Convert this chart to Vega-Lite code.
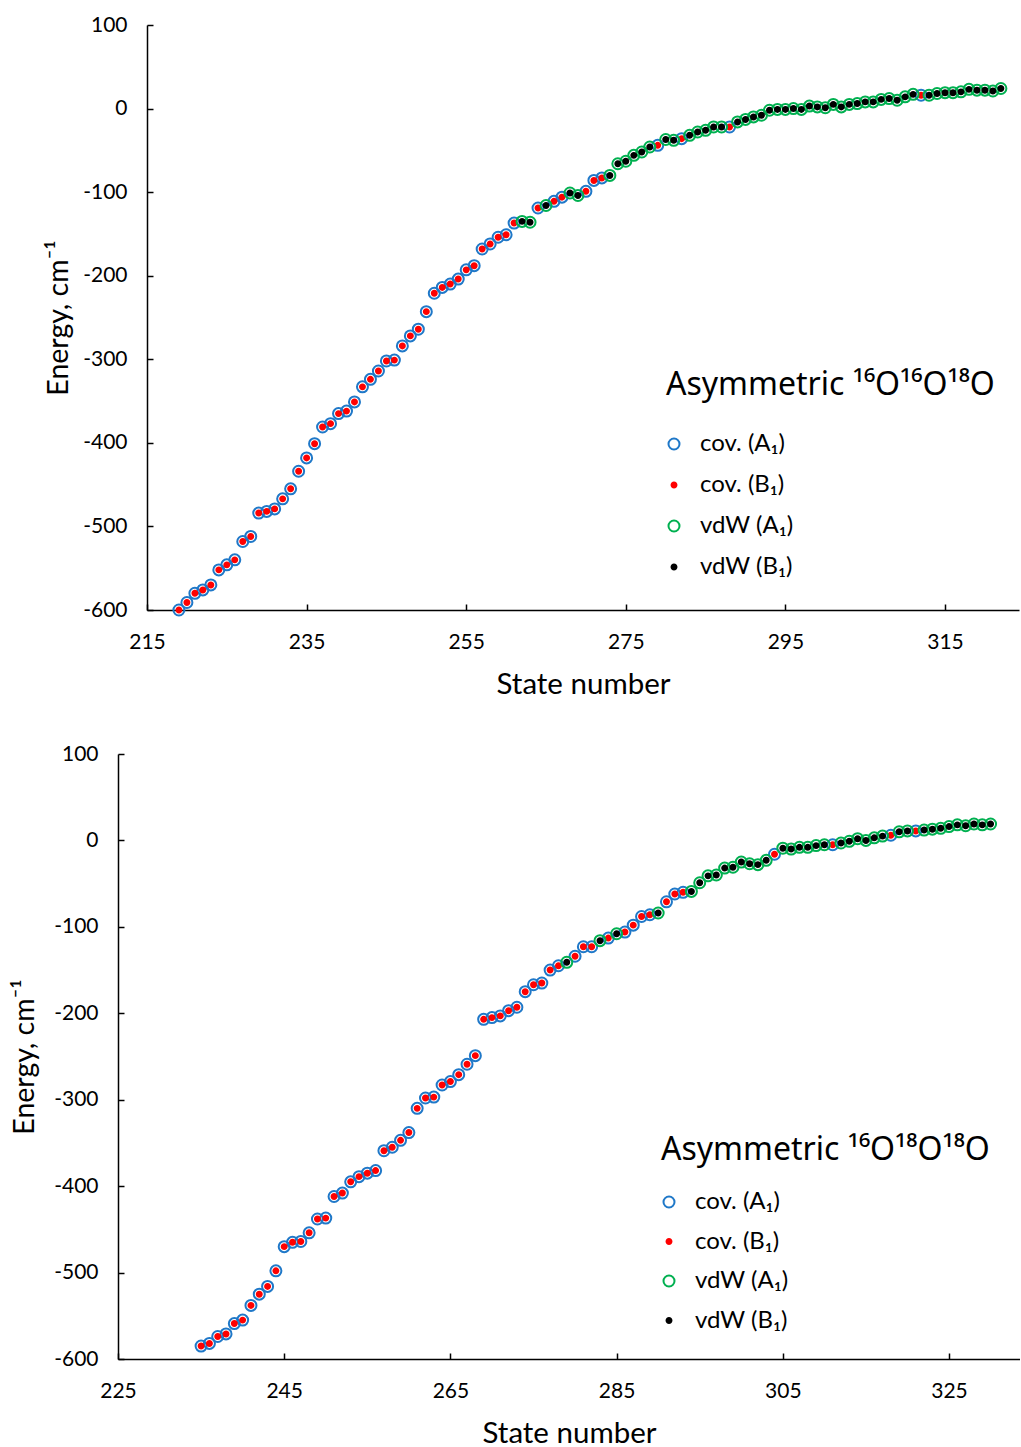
{
  "$schema": "https://vega.github.io/schema/vega-lite/v6.json",
  "background": "white",
  "padding": {"left": 9, "top": 14, "right": 0, "bottom": 0},
  "config": {
    "view": {"stroke": null},
    "font": "Lato, Noto Sans",
    "axis": {
      "grid": false,
      "domainColor": "black",
      "domainWidth": 1.5,
      "tickColor": "black",
      "tickWidth": 1.5,
      "tickSize": -6,
      "labelFontSize": 21,
      "labelColor": "black",
      "titleFontSize": 29.5,
      "titleFontWeight": "normal",
      "titleColor": "black",
      "labelExpr": "'' + datum.value"
    },
    "axisX": {"labelPadding": 27, "titlePadding": 18, "labelFlush": false},
    "axisY": {"labelPadding": 26, "titlePadding": 14, "titleFontSize": 28.5},
    "legend": {
      "orient": "none",
      "titleFont": "Noto Sans",
      "titleFontSize": 32,
      "titleFontWeight": "normal",
      "titleColor": "black",
      "titleLimit": 600,
      "labelFontSize": 24,
      "labelColor": "black",
      "labelOffset": 14,
      "labelLimit": 400,
      "symbolSize": 121,
      "symbolStrokeWidth": 2,
      "symbolOffset": -4,
      "padding": 0
    }
  },
  "datasets": {
    "top": [
      {"s":"cov. (A₁)","n":219,"E":-600},{"s":"cov. (A₁)","n":220,"E":-591},{"s":"cov. (A₁)","n":221,"E":-580},{"s":"cov. (A₁)","n":222,"E":-576},{"s":"cov. (A₁)","n":223,"E":-570},{"s":"cov. (A₁)","n":224,"E":-552},{"s":"cov. (A₁)","n":225,"E":-546},{"s":"cov. (A₁)","n":226,"E":-540},{"s":"cov. (A₁)","n":227,"E":-518},{"s":"cov. (A₁)","n":228,"E":-512},{"s":"cov. (A₁)","n":229,"E":-484},{"s":"cov. (A₁)","n":230,"E":-482},{"s":"cov. (A₁)","n":231,"E":-479},{"s":"cov. (A₁)","n":232,"E":-467},{"s":"cov. (A₁)","n":233,"E":-455},{"s":"cov. (A₁)","n":234,"E":-434},{"s":"cov. (A₁)","n":235,"E":-418},{"s":"cov. (A₁)","n":236,"E":-401},{"s":"cov. (A₁)","n":237,"E":-381},{"s":"cov. (A₁)","n":238,"E":-377},{"s":"cov. (A₁)","n":239,"E":-365},{"s":"cov. (A₁)","n":240,"E":-362},{"s":"cov. (A₁)","n":241,"E":-351},{"s":"cov. (A₁)","n":242,"E":-333},{"s":"cov. (A₁)","n":243,"E":-324},{"s":"cov. (A₁)","n":244,"E":-314},{"s":"cov. (A₁)","n":245,"E":-302},{"s":"cov. (A₁)","n":246,"E":-301},{"s":"cov. (A₁)","n":247,"E":-284},{"s":"cov. (A₁)","n":248,"E":-272},{"s":"cov. (A₁)","n":249,"E":-264},{"s":"cov. (A₁)","n":250,"E":-243},{"s":"cov. (A₁)","n":251,"E":-221},{"s":"cov. (A₁)","n":252,"E":-214},{"s":"cov. (A₁)","n":253,"E":-210},{"s":"cov. (A₁)","n":254,"E":-204},{"s":"cov. (A₁)","n":255,"E":-193},{"s":"cov. (A₁)","n":256,"E":-188},{"s":"cov. (A₁)","n":257,"E":-168},{"s":"cov. (A₁)","n":258,"E":-162},{"s":"cov. (A₁)","n":259,"E":-154},{"s":"cov. (A₁)","n":260,"E":-151},{"s":"cov. (A₁)","n":261,"E":-137},{"s":"cov. (A₁)","n":264,"E":-119},{"s":"cov. (A₁)","n":266,"E":-111},{"s":"cov. (A₁)","n":267,"E":-106},{"s":"cov. (A₁)","n":270,"E":-99},{"s":"cov. (A₁)","n":271,"E":-86},{"s":"cov. (A₁)","n":272,"E":-83},{"s":"cov. (A₁)","n":279,"E":-44},{"s":"cov. (A₁)","n":282,"E":-36},{"s":"cov. (A₁)","n":288,"E":-22},{"s":"cov. (A₁)","n":312,"E":16},
      {"s":"cov. (B₁)","n":219,"E":-600},{"s":"cov. (B₁)","n":220,"E":-591},{"s":"cov. (B₁)","n":221,"E":-580},{"s":"cov. (B₁)","n":222,"E":-576},{"s":"cov. (B₁)","n":223,"E":-570},{"s":"cov. (B₁)","n":224,"E":-552},{"s":"cov. (B₁)","n":225,"E":-546},{"s":"cov. (B₁)","n":226,"E":-540},{"s":"cov. (B₁)","n":227,"E":-518},{"s":"cov. (B₁)","n":228,"E":-512},{"s":"cov. (B₁)","n":229,"E":-484},{"s":"cov. (B₁)","n":230,"E":-482},{"s":"cov. (B₁)","n":231,"E":-479},{"s":"cov. (B₁)","n":232,"E":-467},{"s":"cov. (B₁)","n":233,"E":-455},{"s":"cov. (B₁)","n":234,"E":-434},{"s":"cov. (B₁)","n":235,"E":-418},{"s":"cov. (B₁)","n":236,"E":-401},{"s":"cov. (B₁)","n":237,"E":-381},{"s":"cov. (B₁)","n":238,"E":-377},{"s":"cov. (B₁)","n":239,"E":-365},{"s":"cov. (B₁)","n":240,"E":-362},{"s":"cov. (B₁)","n":241,"E":-351},{"s":"cov. (B₁)","n":242,"E":-333},{"s":"cov. (B₁)","n":243,"E":-324},{"s":"cov. (B₁)","n":244,"E":-314},{"s":"cov. (B₁)","n":245,"E":-302},{"s":"cov. (B₁)","n":246,"E":-301},{"s":"cov. (B₁)","n":247,"E":-284},{"s":"cov. (B₁)","n":248,"E":-272},{"s":"cov. (B₁)","n":249,"E":-264},{"s":"cov. (B₁)","n":250,"E":-243},{"s":"cov. (B₁)","n":251,"E":-221},{"s":"cov. (B₁)","n":252,"E":-214},{"s":"cov. (B₁)","n":253,"E":-210},{"s":"cov. (B₁)","n":254,"E":-204},{"s":"cov. (B₁)","n":255,"E":-193},{"s":"cov. (B₁)","n":256,"E":-188},{"s":"cov. (B₁)","n":257,"E":-168},{"s":"cov. (B₁)","n":258,"E":-162},{"s":"cov. (B₁)","n":259,"E":-154},{"s":"cov. (B₁)","n":260,"E":-151},{"s":"cov. (B₁)","n":261,"E":-137},{"s":"cov. (B₁)","n":264,"E":-119},{"s":"cov. (B₁)","n":266,"E":-111},{"s":"cov. (B₁)","n":267,"E":-106},{"s":"cov. (B₁)","n":270,"E":-99},{"s":"cov. (B₁)","n":271,"E":-86},{"s":"cov. (B₁)","n":272,"E":-83},{"s":"cov. (B₁)","n":279,"E":-44},{"s":"cov. (B₁)","n":282,"E":-36},{"s":"cov. (B₁)","n":288,"E":-22},{"s":"cov. (B₁)","n":312,"E":16},
      {"s":"vdW (A₁)","n":262,"E":-135},{"s":"vdW (A₁)","n":263,"E":-136},{"s":"vdW (A₁)","n":265,"E":-116},{"s":"vdW (A₁)","n":268,"E":-101},{"s":"vdW (A₁)","n":269,"E":-104},{"s":"vdW (A₁)","n":273,"E":-80},{"s":"vdW (A₁)","n":274,"E":-66},{"s":"vdW (A₁)","n":275,"E":-63},{"s":"vdW (A₁)","n":276,"E":-56},{"s":"vdW (A₁)","n":277,"E":-52},{"s":"vdW (A₁)","n":278,"E":-46},{"s":"vdW (A₁)","n":280,"E":-37},{"s":"vdW (A₁)","n":281,"E":-38},{"s":"vdW (A₁)","n":283,"E":-32},{"s":"vdW (A₁)","n":284,"E":-28},{"s":"vdW (A₁)","n":285,"E":-26},{"s":"vdW (A₁)","n":286,"E":-22},{"s":"vdW (A₁)","n":287,"E":-22},{"s":"vdW (A₁)","n":289,"E":-16},{"s":"vdW (A₁)","n":290,"E":-13},{"s":"vdW (A₁)","n":291,"E":-10},{"s":"vdW (A₁)","n":292,"E":-8},{"s":"vdW (A₁)","n":293,"E":-2},{"s":"vdW (A₁)","n":294,"E":-1},{"s":"vdW (A₁)","n":295,"E":-1},{"s":"vdW (A₁)","n":296,"E":0},{"s":"vdW (A₁)","n":297,"E":-1},{"s":"vdW (A₁)","n":298,"E":3},{"s":"vdW (A₁)","n":299,"E":2},{"s":"vdW (A₁)","n":300,"E":1},{"s":"vdW (A₁)","n":301,"E":5},{"s":"vdW (A₁)","n":302,"E":2},{"s":"vdW (A₁)","n":303,"E":5},{"s":"vdW (A₁)","n":304,"E":6},{"s":"vdW (A₁)","n":305,"E":8},{"s":"vdW (A₁)","n":306,"E":8},{"s":"vdW (A₁)","n":307,"E":11},{"s":"vdW (A₁)","n":308,"E":12},{"s":"vdW (A₁)","n":309,"E":10},{"s":"vdW (A₁)","n":310,"E":14},{"s":"vdW (A₁)","n":311,"E":17},{"s":"vdW (A₁)","n":313,"E":16},{"s":"vdW (A₁)","n":314,"E":18},{"s":"vdW (A₁)","n":315,"E":19},{"s":"vdW (A₁)","n":316,"E":19},{"s":"vdW (A₁)","n":317,"E":20},{"s":"vdW (A₁)","n":318,"E":23},{"s":"vdW (A₁)","n":319,"E":22},{"s":"vdW (A₁)","n":320,"E":22},{"s":"vdW (A₁)","n":321,"E":21},{"s":"vdW (A₁)","n":322,"E":24},
      {"s":"vdW (B₁)","n":262,"E":-135},{"s":"vdW (B₁)","n":263,"E":-136},{"s":"vdW (B₁)","n":265,"E":-116},{"s":"vdW (B₁)","n":268,"E":-101},{"s":"vdW (B₁)","n":269,"E":-104},{"s":"vdW (B₁)","n":273,"E":-80},{"s":"vdW (B₁)","n":274,"E":-66},{"s":"vdW (B₁)","n":275,"E":-63},{"s":"vdW (B₁)","n":276,"E":-56},{"s":"vdW (B₁)","n":277,"E":-52},{"s":"vdW (B₁)","n":278,"E":-46},{"s":"vdW (B₁)","n":280,"E":-37},{"s":"vdW (B₁)","n":281,"E":-38},{"s":"vdW (B₁)","n":283,"E":-32},{"s":"vdW (B₁)","n":284,"E":-28},{"s":"vdW (B₁)","n":285,"E":-26},{"s":"vdW (B₁)","n":286,"E":-22},{"s":"vdW (B₁)","n":287,"E":-22},{"s":"vdW (B₁)","n":289,"E":-16},{"s":"vdW (B₁)","n":290,"E":-13},{"s":"vdW (B₁)","n":291,"E":-10},{"s":"vdW (B₁)","n":292,"E":-8},{"s":"vdW (B₁)","n":293,"E":-2},{"s":"vdW (B₁)","n":294,"E":-1},{"s":"vdW (B₁)","n":295,"E":-1},{"s":"vdW (B₁)","n":296,"E":0},{"s":"vdW (B₁)","n":297,"E":-1},{"s":"vdW (B₁)","n":298,"E":3},{"s":"vdW (B₁)","n":299,"E":2},{"s":"vdW (B₁)","n":300,"E":1},{"s":"vdW (B₁)","n":301,"E":5},{"s":"vdW (B₁)","n":302,"E":2},{"s":"vdW (B₁)","n":303,"E":5},{"s":"vdW (B₁)","n":304,"E":6},{"s":"vdW (B₁)","n":305,"E":8},{"s":"vdW (B₁)","n":306,"E":8},{"s":"vdW (B₁)","n":307,"E":11},{"s":"vdW (B₁)","n":308,"E":12},{"s":"vdW (B₁)","n":309,"E":10},{"s":"vdW (B₁)","n":310,"E":14},{"s":"vdW (B₁)","n":311,"E":17},{"s":"vdW (B₁)","n":313,"E":16},{"s":"vdW (B₁)","n":314,"E":18},{"s":"vdW (B₁)","n":315,"E":19},{"s":"vdW (B₁)","n":316,"E":19},{"s":"vdW (B₁)","n":317,"E":20},{"s":"vdW (B₁)","n":318,"E":23},{"s":"vdW (B₁)","n":319,"E":22},{"s":"vdW (B₁)","n":320,"E":22},{"s":"vdW (B₁)","n":321,"E":21},{"s":"vdW (B₁)","n":322,"E":24}
    ],
    "bot": [
      {"s":"cov. (A₁)","n":235,"E":-585},{"s":"cov. (A₁)","n":236,"E":-582},{"s":"cov. (A₁)","n":237,"E":-574},{"s":"cov. (A₁)","n":238,"E":-571},{"s":"cov. (A₁)","n":239,"E":-559},{"s":"cov. (A₁)","n":240,"E":-555},{"s":"cov. (A₁)","n":241,"E":-538},{"s":"cov. (A₁)","n":242,"E":-525},{"s":"cov. (A₁)","n":243,"E":-516},{"s":"cov. (A₁)","n":244,"E":-498},{"s":"cov. (A₁)","n":245,"E":-470},{"s":"cov. (A₁)","n":246,"E":-465},{"s":"cov. (A₁)","n":247,"E":-464},{"s":"cov. (A₁)","n":248,"E":-454},{"s":"cov. (A₁)","n":249,"E":-438},{"s":"cov. (A₁)","n":250,"E":-437},{"s":"cov. (A₁)","n":251,"E":-412},{"s":"cov. (A₁)","n":252,"E":-408},{"s":"cov. (A₁)","n":253,"E":-395},{"s":"cov. (A₁)","n":254,"E":-389},{"s":"cov. (A₁)","n":255,"E":-385},{"s":"cov. (A₁)","n":256,"E":-382},{"s":"cov. (A₁)","n":257,"E":-359},{"s":"cov. (A₁)","n":258,"E":-355},{"s":"cov. (A₁)","n":259,"E":-347},{"s":"cov. (A₁)","n":260,"E":-338},{"s":"cov. (A₁)","n":261,"E":-310},{"s":"cov. (A₁)","n":262,"E":-298},{"s":"cov. (A₁)","n":263,"E":-297},{"s":"cov. (A₁)","n":264,"E":-283},{"s":"cov. (A₁)","n":265,"E":-279},{"s":"cov. (A₁)","n":266,"E":-271},{"s":"cov. (A₁)","n":267,"E":-259},{"s":"cov. (A₁)","n":268,"E":-249},{"s":"cov. (A₁)","n":269,"E":-207},{"s":"cov. (A₁)","n":270,"E":-205},{"s":"cov. (A₁)","n":271,"E":-203},{"s":"cov. (A₁)","n":272,"E":-197},{"s":"cov. (A₁)","n":273,"E":-193},{"s":"cov. (A₁)","n":274,"E":-175},{"s":"cov. (A₁)","n":275,"E":-167},{"s":"cov. (A₁)","n":276,"E":-165},{"s":"cov. (A₁)","n":277,"E":-150},{"s":"cov. (A₁)","n":278,"E":-145},{"s":"cov. (A₁)","n":280,"E":-134},{"s":"cov. (A₁)","n":281,"E":-123},{"s":"cov. (A₁)","n":282,"E":-123},{"s":"cov. (A₁)","n":284,"E":-113},{"s":"cov. (A₁)","n":286,"E":-106},{"s":"cov. (A₁)","n":287,"E":-98},{"s":"cov. (A₁)","n":288,"E":-88},{"s":"cov. (A₁)","n":289,"E":-86},{"s":"cov. (A₁)","n":291,"E":-71},{"s":"cov. (A₁)","n":292,"E":-62},{"s":"cov. (A₁)","n":293,"E":-60},{"s":"cov. (A₁)","n":304,"E":-16},{"s":"cov. (A₁)","n":311,"E":-5},{"s":"cov. (A₁)","n":318,"E":6},{"s":"cov. (A₁)","n":321,"E":11},
      {"s":"cov. (B₁)","n":235,"E":-585},{"s":"cov. (B₁)","n":236,"E":-582},{"s":"cov. (B₁)","n":237,"E":-574},{"s":"cov. (B₁)","n":238,"E":-571},{"s":"cov. (B₁)","n":239,"E":-559},{"s":"cov. (B₁)","n":240,"E":-555},{"s":"cov. (B₁)","n":241,"E":-538},{"s":"cov. (B₁)","n":242,"E":-525},{"s":"cov. (B₁)","n":243,"E":-516},{"s":"cov. (B₁)","n":244,"E":-498},{"s":"cov. (B₁)","n":245,"E":-470},{"s":"cov. (B₁)","n":246,"E":-465},{"s":"cov. (B₁)","n":247,"E":-464},{"s":"cov. (B₁)","n":248,"E":-454},{"s":"cov. (B₁)","n":249,"E":-438},{"s":"cov. (B₁)","n":250,"E":-437},{"s":"cov. (B₁)","n":251,"E":-412},{"s":"cov. (B₁)","n":252,"E":-408},{"s":"cov. (B₁)","n":253,"E":-395},{"s":"cov. (B₁)","n":254,"E":-389},{"s":"cov. (B₁)","n":255,"E":-385},{"s":"cov. (B₁)","n":256,"E":-382},{"s":"cov. (B₁)","n":257,"E":-359},{"s":"cov. (B₁)","n":258,"E":-355},{"s":"cov. (B₁)","n":259,"E":-347},{"s":"cov. (B₁)","n":260,"E":-338},{"s":"cov. (B₁)","n":261,"E":-310},{"s":"cov. (B₁)","n":262,"E":-298},{"s":"cov. (B₁)","n":263,"E":-297},{"s":"cov. (B₁)","n":264,"E":-283},{"s":"cov. (B₁)","n":265,"E":-279},{"s":"cov. (B₁)","n":266,"E":-271},{"s":"cov. (B₁)","n":267,"E":-259},{"s":"cov. (B₁)","n":268,"E":-249},{"s":"cov. (B₁)","n":269,"E":-207},{"s":"cov. (B₁)","n":270,"E":-205},{"s":"cov. (B₁)","n":271,"E":-203},{"s":"cov. (B₁)","n":272,"E":-197},{"s":"cov. (B₁)","n":273,"E":-193},{"s":"cov. (B₁)","n":274,"E":-175},{"s":"cov. (B₁)","n":275,"E":-167},{"s":"cov. (B₁)","n":276,"E":-165},{"s":"cov. (B₁)","n":277,"E":-150},{"s":"cov. (B₁)","n":278,"E":-145},{"s":"cov. (B₁)","n":280,"E":-134},{"s":"cov. (B₁)","n":281,"E":-123},{"s":"cov. (B₁)","n":282,"E":-123},{"s":"cov. (B₁)","n":284,"E":-113},{"s":"cov. (B₁)","n":286,"E":-106},{"s":"cov. (B₁)","n":287,"E":-98},{"s":"cov. (B₁)","n":288,"E":-88},{"s":"cov. (B₁)","n":289,"E":-86},{"s":"cov. (B₁)","n":291,"E":-71},{"s":"cov. (B₁)","n":292,"E":-62},{"s":"cov. (B₁)","n":293,"E":-60},{"s":"cov. (B₁)","n":304,"E":-16},{"s":"cov. (B₁)","n":311,"E":-5},{"s":"cov. (B₁)","n":318,"E":6},{"s":"cov. (B₁)","n":321,"E":11},
      {"s":"vdW (A₁)","n":279,"E":-141},{"s":"vdW (A₁)","n":283,"E":-116},{"s":"vdW (A₁)","n":285,"E":-108},{"s":"vdW (A₁)","n":290,"E":-84},{"s":"vdW (A₁)","n":294,"E":-59},{"s":"vdW (A₁)","n":295,"E":-49},{"s":"vdW (A₁)","n":296,"E":-41},{"s":"vdW (A₁)","n":297,"E":-40},{"s":"vdW (A₁)","n":298,"E":-32},{"s":"vdW (A₁)","n":299,"E":-31},{"s":"vdW (A₁)","n":300,"E":-25},{"s":"vdW (A₁)","n":301,"E":-27},{"s":"vdW (A₁)","n":302,"E":-28},{"s":"vdW (A₁)","n":303,"E":-23},{"s":"vdW (A₁)","n":305,"E":-9},{"s":"vdW (A₁)","n":306,"E":-10},{"s":"vdW (A₁)","n":307,"E":-8},{"s":"vdW (A₁)","n":308,"E":-8},{"s":"vdW (A₁)","n":309,"E":-6},{"s":"vdW (A₁)","n":310,"E":-5},{"s":"vdW (A₁)","n":312,"E":-3},{"s":"vdW (A₁)","n":313,"E":-1},{"s":"vdW (A₁)","n":314,"E":2},{"s":"vdW (A₁)","n":315,"E":0},{"s":"vdW (A₁)","n":316,"E":3},{"s":"vdW (A₁)","n":317,"E":5},{"s":"vdW (A₁)","n":319,"E":10},{"s":"vdW (A₁)","n":320,"E":11},{"s":"vdW (A₁)","n":322,"E":12},{"s":"vdW (A₁)","n":323,"E":13},{"s":"vdW (A₁)","n":324,"E":14},{"s":"vdW (A₁)","n":325,"E":16},{"s":"vdW (A₁)","n":326,"E":18},{"s":"vdW (A₁)","n":327,"E":17},{"s":"vdW (A₁)","n":328,"E":19},{"s":"vdW (A₁)","n":329,"E":18},{"s":"vdW (A₁)","n":330,"E":19},
      {"s":"vdW (B₁)","n":279,"E":-141},{"s":"vdW (B₁)","n":283,"E":-116},{"s":"vdW (B₁)","n":285,"E":-108},{"s":"vdW (B₁)","n":290,"E":-84},{"s":"vdW (B₁)","n":294,"E":-59},{"s":"vdW (B₁)","n":295,"E":-49},{"s":"vdW (B₁)","n":296,"E":-41},{"s":"vdW (B₁)","n":297,"E":-40},{"s":"vdW (B₁)","n":298,"E":-32},{"s":"vdW (B₁)","n":299,"E":-31},{"s":"vdW (B₁)","n":300,"E":-25},{"s":"vdW (B₁)","n":301,"E":-27},{"s":"vdW (B₁)","n":302,"E":-28},{"s":"vdW (B₁)","n":303,"E":-23},{"s":"vdW (B₁)","n":305,"E":-9},{"s":"vdW (B₁)","n":306,"E":-10},{"s":"vdW (B₁)","n":307,"E":-8},{"s":"vdW (B₁)","n":308,"E":-8},{"s":"vdW (B₁)","n":309,"E":-6},{"s":"vdW (B₁)","n":310,"E":-5},{"s":"vdW (B₁)","n":312,"E":-3},{"s":"vdW (B₁)","n":313,"E":-1},{"s":"vdW (B₁)","n":314,"E":2},{"s":"vdW (B₁)","n":315,"E":0},{"s":"vdW (B₁)","n":316,"E":3},{"s":"vdW (B₁)","n":317,"E":5},{"s":"vdW (B₁)","n":319,"E":10},{"s":"vdW (B₁)","n":320,"E":11},{"s":"vdW (B₁)","n":322,"E":12},{"s":"vdW (B₁)","n":323,"E":13},{"s":"vdW (B₁)","n":324,"E":14},{"s":"vdW (B₁)","n":325,"E":16},{"s":"vdW (B₁)","n":326,"E":18},{"s":"vdW (B₁)","n":327,"E":17},{"s":"vdW (B₁)","n":328,"E":19},{"s":"vdW (B₁)","n":329,"E":18},{"s":"vdW (B₁)","n":330,"E":19}
    ]
  },
  "concat": [
    {
      "hconcat": [
        {
          "width": 35,
          "height": 1,
          "data": {"values": [{}]},
          "mark": {"type": "point", "opacity": 0, "size": 0}
        },
        {
          "width": 872,
          "height": 585,
          "layer": [
            {
              "mark": {"type": "rule", "color": "black", "strokeWidth": 1.5},
              "encoding": {"y": {"datum": 100, "type": "quantitative", "scale": {"domain": [-600, 100]}}}
            },
            {
              "mark": {"type": "rule", "color": "black", "strokeWidth": 2, "strokeDash": [8, 6]},
              "encoding": {"y": {"datum": 0, "type": "quantitative"}}
            },
            {
              "data": {"name": "top"},
              "mark": {"type": "point", "opacity": 1, "size": 121, "strokeWidth": 2},
              "encoding": {
                "x": {"field": "n", "type": "quantitative", "scale": {"domain": [215, 324.27], "nice": false, "zero": false},
                      "axis": {"values": [215, 235, 255, 275, 295, 315], "title": "State number"}},
                "y": {"field": "E", "type": "quantitative", "scale": {"domain": [-600, 100], "nice": false},
                      "axis": {"values": [-600, -500, -400, -300, -200, -100, 0, 100], "title": "Energy, cm⁻¹", "titlePadding": 9}},
                "stroke": {"field": "s", "type": "nominal",
                  "scale": {"domain": ["cov. (A₁)", "cov. (B₁)", "vdW (A₁)", "vdW (B₁)"], "range": ["#1F78C8", "#FF0000", "#00B050", "#000000"]},
                  "legend": {"title": "Asymmetric ¹⁶O¹⁶O¹⁸O", "legendX": 657, "legendY": 345, "rowPadding": 17, "titlePadding": 30}},
                "fill": {"field": "s", "type": "nominal",
                  "scale": {"domain": ["cov. (A₁)", "cov. (B₁)", "vdW (A₁)", "vdW (B₁)"], "range": ["transparent", "#FF0000", "transparent", "#000000"]},
                  "legend": {"title": "Asymmetric ¹⁶O¹⁶O¹⁸O", "legendX": 657, "legendY": 345, "rowPadding": 17, "titlePadding": 30}},
                "shape": {"field": "s", "type": "nominal",
                  "scale": {"domain": ["cov. (A₁)", "cov. (B₁)", "vdW (A₁)", "vdW (B₁)"], "range": ["circle", "M-0.45,0A0.45,0.45 0 1,0 0.45,0A0.45,0.45 0 1,0 -0.45,0Z", "circle", "M-0.45,0A0.45,0.45 0 1,0 0.45,0A0.45,0.45 0 1,0 -0.45,0Z"]},
                  "legend": {"title": "Asymmetric ¹⁶O¹⁶O¹⁸O", "legendX": 657, "legendY": 345, "rowPadding": 17, "titlePadding": 30}}
              }
            }
          ]
        }
      ],
      "spacing": 0
    },
    {
      "hconcat": [
        {
          "width": 1,
          "height": 1,
          "data": {"values": [{}]},
          "mark": {"type": "point", "opacity": 0, "size": 0}
        },
        {
          "width": 902,
          "height": 605,
          "layer": [
            {
              "mark": {"type": "rule", "color": "black", "strokeWidth": 1.5},
              "encoding": {"y": {"datum": 100, "type": "quantitative", "scale": {"domain": [-600, 100]}}}
            },
            {
              "mark": {"type": "rule", "color": "black", "strokeWidth": 2, "strokeDash": [8, 6]},
              "encoding": {"y": {"datum": 0, "type": "quantitative"}}
            },
            {
              "data": {"name": "bot"},
              "mark": {"type": "point", "opacity": 1, "size": 121, "strokeWidth": 2},
              "encoding": {
                "x": {"field": "n", "type": "quantitative", "scale": {"domain": [225, 333.54], "nice": false, "zero": false},
                      "axis": {"values": [225, 245, 265, 285, 305, 325], "title": "State number"}},
                "y": {"field": "E", "type": "quantitative", "scale": {"domain": [-600, 100], "nice": false},
                      "axis": {"values": [-600, -500, -400, -300, -200, -100, 0, 100], "title": "Energy, cm⁻¹", "titlePadding": 14}},
                "stroke": {"field": "s", "type": "nominal",
                  "scale": {"domain": ["cov. (A₁)", "cov. (B₁)", "vdW (A₁)", "vdW (B₁)"], "range": ["#1F78C8", "#FF0000", "#00B050", "#000000"]},
                  "legend": {"title": "Asymmetric ¹⁶O¹⁸O¹⁸O", "legendX": 652, "legendY": 381, "rowPadding": 15.5, "titlePadding": 23}},
                "fill": {"field": "s", "type": "nominal",
                  "scale": {"domain": ["cov. (A₁)", "cov. (B₁)", "vdW (A₁)", "vdW (B₁)"], "range": ["transparent", "#FF0000", "transparent", "#000000"]},
                  "legend": {"title": "Asymmetric ¹⁶O¹⁸O¹⁸O", "legendX": 652, "legendY": 381, "rowPadding": 15.5, "titlePadding": 23}},
                "shape": {"field": "s", "type": "nominal",
                  "scale": {"domain": ["cov. (A₁)", "cov. (B₁)", "vdW (A₁)", "vdW (B₁)"], "range": ["circle", "M-0.45,0A0.45,0.45 0 1,0 0.45,0A0.45,0.45 0 1,0 -0.45,0Z", "circle", "M-0.45,0A0.45,0.45 0 1,0 0.45,0A0.45,0.45 0 1,0 -0.45,0Z"]},
                  "legend": {"title": "Asymmetric ¹⁶O¹⁸O¹⁸O", "legendX": 652, "legendY": 381, "rowPadding": 15.5, "titlePadding": 23}}
              }
            }
          ]
        }
      ],
      "spacing": 0
    }
  ],
  "columns": 1,
  "align": "none",
  "spacing": 44,
  "resolve": {"scale": {"stroke": "independent", "fill": "independent", "shape": "independent"}}
}
